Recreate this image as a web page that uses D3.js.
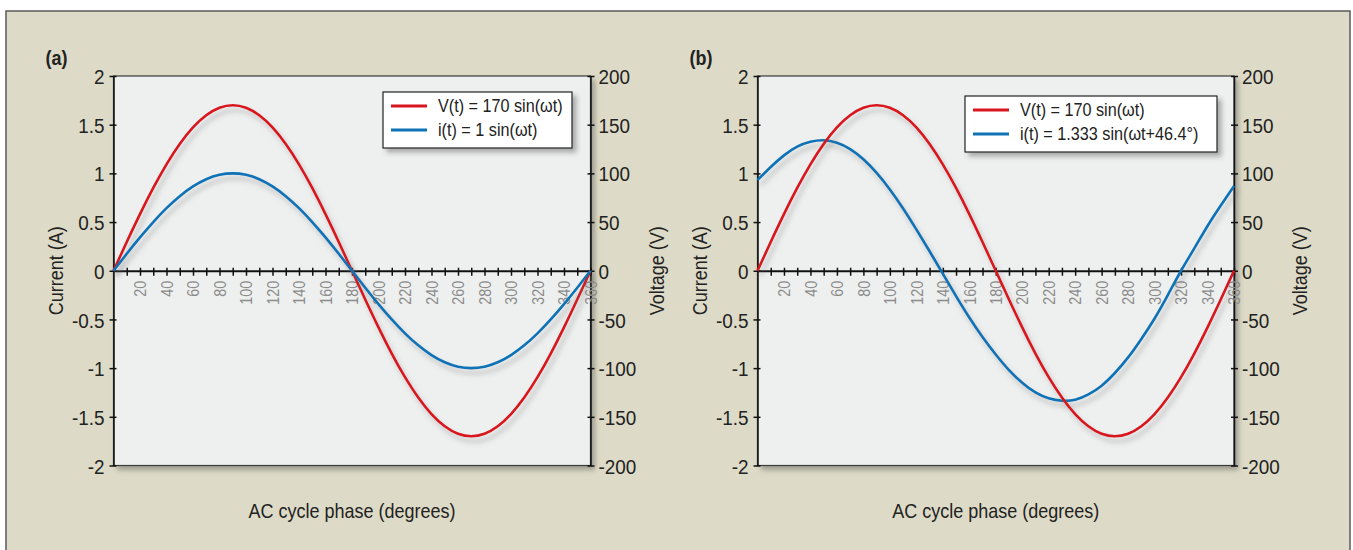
<!DOCTYPE html>
<html><head><meta charset="utf-8">
<script src="https://cdn.jsdelivr.net/npm/d3@7"></script>
<style>
html,body{margin:0;padding:0;background:#fff;}
svg{display:block;}
text{font-family:"Liberation Sans",Arial,sans-serif;}
</style></head>
<body>
<script>
// ---------- data ----------
const phaseDeg = [0,10,20,30,40,50,60,70,80,90,100,110,120,130,140,150,160,170,180,
  190,200,210,220,230,240,250,260,270,280,290,300,310,320,330,340,350,360];
const voltageA = [0,29.5,58.1,85,109.3,130.2,147.2,159.7,167.4,170,167.4,159.7,147.2,130.2,109.3,85,58.1,29.5,0,
  -29.5,-58.1,-85,-109.3,-130.2,-147.2,-159.7,-167.4,-170,-167.4,-159.7,-147.2,-130.2,-109.3,-85,-58.1,-29.5,0];
const currentA = [0,0.174,0.342,0.5,0.643,0.766,0.866,0.94,0.985,1.0,0.985,0.94,0.866,0.766,0.643,0.5,0.342,0.174,0,
  -0.174,-0.342,-0.5,-0.643,-0.766,-0.866,-0.94,-0.985,-1.0,-0.985,-0.94,-0.866,-0.766,-0.643,-0.5,-0.342,-0.174,0];
const voltageB = [0,29.5,58.1,85,109.3,130.2,147.2,159.7,167.4,170,167.4,159.7,147.2,130.2,109.3,85,58.1,29.5,0,
  -29.5,-58.1,-85,-109.3,-130.2,-147.2,-159.7,-167.4,-170,-167.4,-159.7,-147.2,-130.2,-109.3,-85,-58.1,-29.5,0];
const currentB = [0.93,1.065,1.185,1.275,1.325,1.34,1.315,1.25,1.145,1.005,0.835,0.64,0.425,0.2,-0.03,
  -0.26,-0.48,-0.68,-0.86,-1.02,-1.15,-1.25,-1.31,-1.335,-1.325,-1.27,-1.18,-1.05,-0.89,-0.7,-0.49,-0.25,
  0.0,0.23,0.46,0.67,0.87];
const currentTicks = [2,1.5,1,0.5,0,-0.5,-1,-1.5,-2];
const currentTickLabels = ["2","1.5","1","0.5","0","-0.5","-1","-1.5","-2"];
const voltageTicks = [200,150,100,50,0,-50,-100,-150,-200];
const voltageTickLabels = ["200","150","100","50","0","-50","-100","-150","-200"];
const phaseMinorTicks = [10,20,30,40,50,60,70,80,90,100,110,120,130,140,150,160,170,180,
  190,200,210,220,230,240,250,260,270,280,290,300,310,320,330,340,350,360];
const phaseTickLabels = ["20","40","60","80","100","120","140","160","180","200","220","240","260","280","300","320","340","360"];
const phaseLabelValues = phaseTickLabels.map(Number);
const legendA = ["V(t) = 170 sin(\u03C9t)","i(t) = 1 sin(\u03C9t)"];
const legendB = ["V(t) = 170 sin(\u03C9t)","i(t) = 1.333 sin(\u03C9t+46.4\u00B0)"];
const panelLabels = ["(a)","(b)"];
const xTitle = "AC cycle phase (degrees)";
const yLeftTitle = "Current (A)";
const yRightTitle = "Voltage (V)";

// ---------- drawing ----------
const W = 1353, H = 550;
const RED = "#d8141f", BLUE = "#0e72b6";
const SX = 0.9; // horizontal condensing of text
const svg = d3.select("body").append("svg").attr("width",W).attr("height",H);
const defs = svg.append("defs");
const f1 = defs.append("filter").attr("id","lineShadow").attr("x","-10%").attr("y","-10%").attr("width","130%").attr("height","130%");
f1.append("feDropShadow").attr("dx",3).attr("dy",5).attr("stdDeviation",2.6).attr("flood-color","#6a6a6a").attr("flood-opacity",0.4);
const f2 = defs.append("filter").attr("id","boxShadow").attr("x","-10%").attr("y","-10%").attr("width","130%").attr("height","130%");
f2.append("feDropShadow").attr("dx",4).attr("dy",4).attr("stdDeviation",2.5).attr("flood-color","#555").attr("flood-opacity",0.45);

svg.append("rect").attr("x",6).attr("y",11).attr("width",1344).attr("height",560)
  .attr("fill","#dddbc7").attr("stroke","#5a5a5a").attr("stroke-width",1.5);

function ctext(parent, x, y, rot, txt, size, anchor){
  return parent.append("text")
    .attr("transform",`translate(${x},${y})${rot?` rotate(${rot})`:""} scale(${SX},1)`)
    .attr("text-anchor",anchor||"start").attr("font-size",size).attr("fill","#222").text(txt);
}

function panel(cfg){
  const x = d3.scaleLinear().domain([0,360]).range([cfg.left,cfg.right]);
  const yI = d3.scaleLinear().domain([-2,2]).range([465.5,76]);
  const yV = d3.scaleLinear().domain([-200,200]).range([465.5,76]);
  const g = svg.append("g");
  g.append("rect").attr("x",cfg.left).attr("y",yI(2)).attr("width",x(360)-x(0)).attr("height",yI(-2)-yI(2))
    .attr("fill","#eef0ef").attr("stroke","#3a3a3a").attr("stroke-width",1.2).attr("filter","url(#boxShadow)");

  // left axis
  const la = g.append("g").attr("transform",`translate(${cfg.left},0)`)
    .call(d3.axisLeft(yI).tickValues(currentTicks).tickFormat((d,i)=>currentTickLabels[i]).tickSizeInner(4).tickSizeOuter(0).tickPadding(7));
  la.select(".domain").attr("stroke","#111").attr("stroke-width",1.5);
  la.selectAll(".tick line").attr("stroke","#111").attr("stroke-width",1.5).attr("x2",-4).attr("x1",3);
  la.selectAll(".tick text").attr("font-size",21).attr("fill","#222").attr("dy","0.36em")
    .attr("x",-9/SX).attr("transform",`scale(${SX},1)`);
  // right axis
  const ra = g.append("g").attr("transform",`translate(${cfg.right},0)`)
    .call(d3.axisRight(yV).tickValues(voltageTicks).tickFormat((d,i)=>voltageTickLabels[i]).tickSizeInner(4).tickSizeOuter(0).tickPadding(7));
  ra.select(".domain").attr("stroke","#111").attr("stroke-width",1.5);
  ra.selectAll(".tick line").attr("stroke","#111").attr("stroke-width",1.5).attr("x1",-3).attr("x2",4);
  ra.selectAll(".tick text").attr("font-size",21).attr("fill","#222").attr("dy","0.36em")
    .attr("x",8/SX).attr("transform",`scale(${SX},1)`);

  // x axis at zero
  const xa = g.append("g").attr("transform",`translate(0,${yI(0)})`)
    .call(d3.axisBottom(x).tickValues(phaseMinorTicks).tickFormat("").tickSizeInner(5).tickSizeOuter(0));
  xa.select(".domain").attr("stroke","#111").attr("stroke-width",2);
  xa.selectAll(".tick line").attr("stroke","#111").attr("stroke-width",1.5).attr("y1",-3).attr("y2",5);
  g.append("g").selectAll("text").data(phaseLabelValues).join("text")
    .attr("transform",d=>`translate(${x(d)+0.5},${yI(0)+10}) rotate(-90) scale(${SX},1)`)
    .attr("text-anchor","end").attr("dy","0.36em").attr("font-size",16).attr("fill","#8c8c8c")
    .text((d,i)=>phaseTickLabels[i]);

  // lines
  const lineI = d3.line().x((d,i)=>x(phaseDeg[i])).y(d=>yI(d)).curve(d3.curveNatural);
  const lineV = d3.line().x((d,i)=>x(phaseDeg[i])).y(d=>yV(d)).curve(d3.curveNatural);
  const order = cfg.blueFirst ? ["i","v"] : ["v","i"];
  order.forEach(k=>{
    g.append("path").datum(k==="i"?cfg.current:cfg.voltage).attr("d",k==="i"?lineI:lineV)
      .attr("fill","none").attr("stroke",k==="i"?BLUE:RED).attr("stroke-width",2.6)
      .attr("stroke-linejoin","round").attr("filter","url(#lineShadow)");
  });

  // legend
  const lg = g.append("g").attr("transform",`translate(${cfg.legX},${cfg.legY})`);
  lg.append("rect").attr("width",cfg.legW).attr("height",56).attr("fill","#fff")
    .attr("stroke","#222").attr("stroke-width",1.2).attr("filter","url(#boxShadow)");
  [RED,BLUE].forEach((c,i)=>{
    lg.append("line").attr("x1",8).attr("x2",44).attr("y1",14+i*24).attr("y2",14+i*24)
      .attr("stroke",c).attr("stroke-width",3.2);
    ctext(lg, 55, 20+i*24, 0, cfg.legend[i], 18, "start");
  });

  // titles
  g.append("text").attr("transform",`translate(${cfg.left-68},65) scale(${SX},1)`)
    .attr("font-size",20).attr("font-weight","bold").attr("fill","#222").text(cfg.label);
  ctext(g, cfg.left-51, yI(0), -90, yLeftTitle, 20, "middle");
  ctext(g, cfg.right+73, yI(0), -90, yRightTitle, 20, "middle");
  ctext(g, (cfg.left+cfg.right)/2, 518, 0, xTitle, 20, "middle");
}

panel({left:113.5,right:590.5,voltage:voltageA,current:currentA,legend:legendA,label:panelLabels[0],
  legX:383,legY:92,legW:189,blueFirst:false});
panel({left:757.5,right:1234,voltage:voltageB,current:currentB,legend:legendB,label:panelLabels[1],
  legX:965,legY:96,legW:252,blueFirst:true});
</script>
</body></html>
